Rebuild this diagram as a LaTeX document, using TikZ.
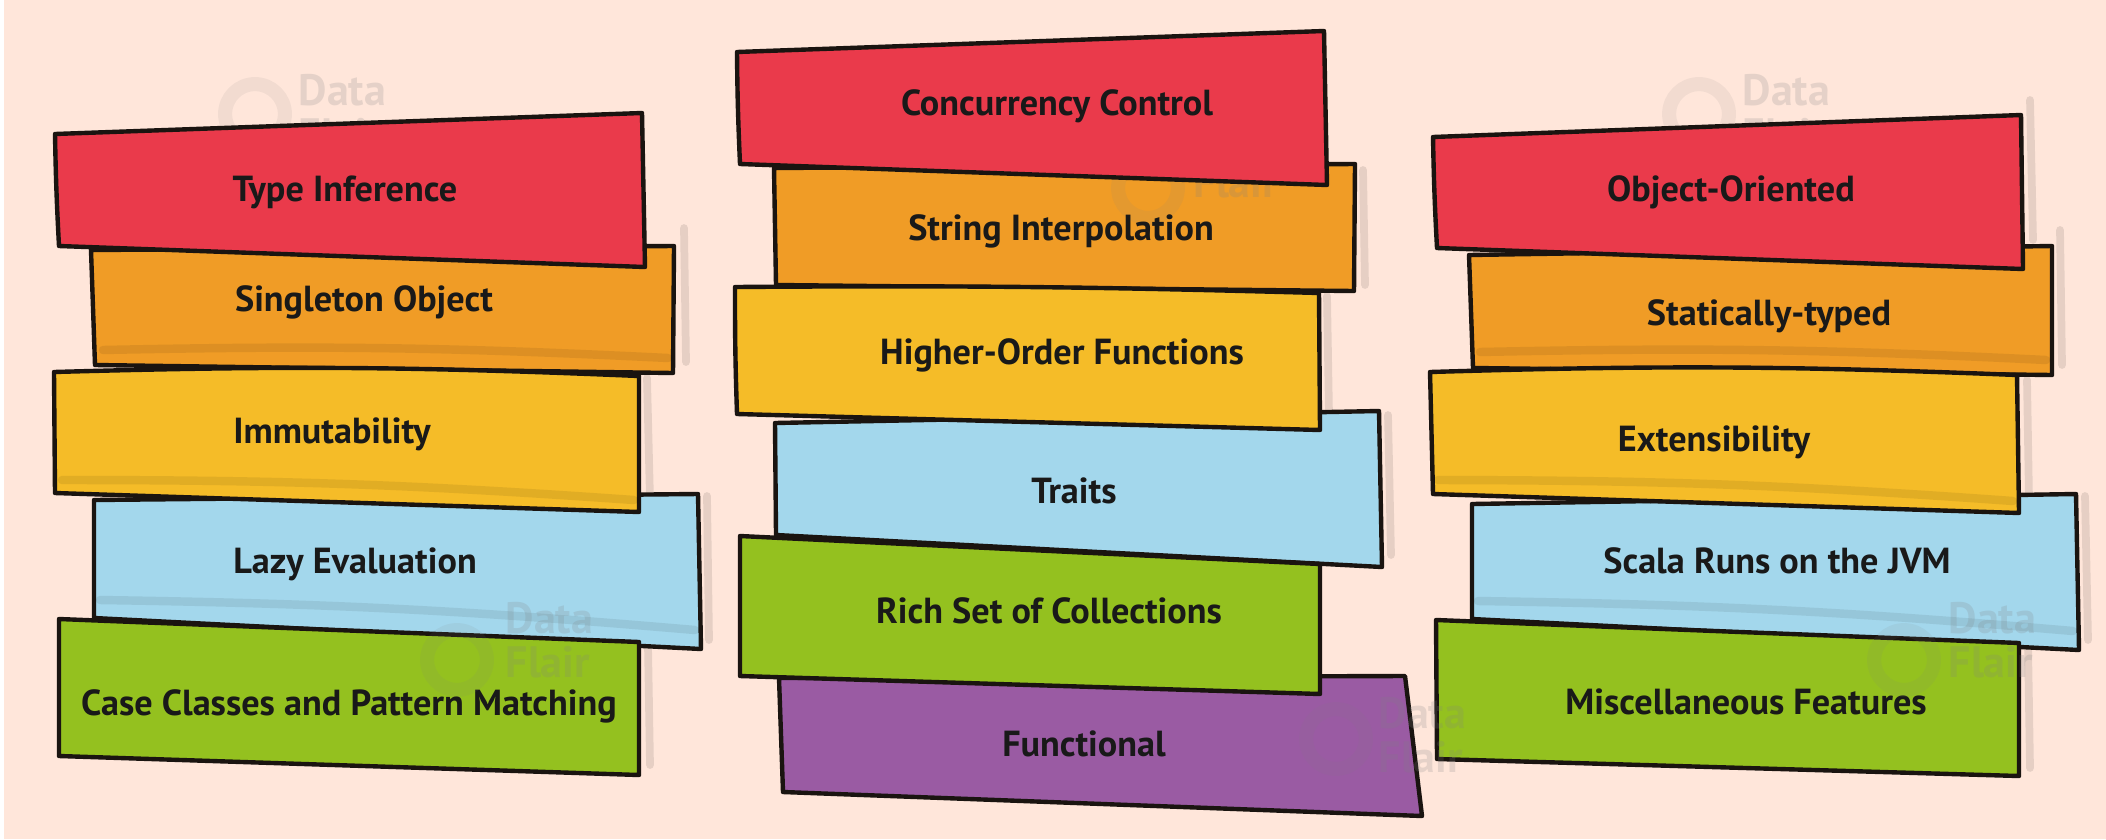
\documentclass[tikz,border=0pt]{standalone}
\usepackage{fontspec}
\setmainfont{PT Sans}
\definecolor{paper}{HTML}{FFE6DA}
\definecolor{redband}{HTML}{EA3A4B}
\definecolor{orangeband}{HTML}{F09C26}
\definecolor{yellowband}{HTML}{F5BC28}
\definecolor{blueband}{HTML}{A3D7EC}
\definecolor{greenband}{HTML}{94C11F}
\definecolor{purpleband}{HTML}{9A5BA3}
\definecolor{inkband}{HTML}{1A1410}
\tikzset{
    band/.style={draw=inkband,line width=1.25pt,line join=round},
    title/.style={font=\bfseries\fontsize{10.3}{12}\selectfont,text=black!90,inner sep=0pt},
    crease/.style={line width=2.4pt,line cap=round,black,opacity=0.08},
    backline/.style={line width=2.2pt,line cap=round,black!60!paper,opacity=0.16},
    wlogo/.style={circle,draw=gray,line width=4pt,minimum size=17pt,inner sep=0pt,opacity=0.10},
    wtext/.style={font=\bfseries\fontsize{12.5}{12.5}\selectfont,text=gray,align=left,inner sep=0pt,text opacity=0.20}
}
\begin{document}
\begin{tikzpicture}[x=0.01cm,y=-0.01cm]
    \useasboundingbox (0,0) rectangle (2106,839);
    \fill[white] (0,0) rectangle (2106,839);
    \fill[paper] (4,0) rectangle (2106,839);

    % watermarks under the top bands
    \node[wlogo] (logoa) at (255,114) {};
    \node[wtext,anchor=west] (marka) at (298,112) {Data\\Flair};
    \node[wlogo] (logoe) at (1699,114) {};
    \node[wtext,anchor=west] (marke) at (1742,112) {Data\\Flair};

    % left stack
    \draw[backline] (684,228) -- (686,362);
    \draw[backline] (647,378) -- (650,500);
    \draw[backline] (707,496) -- (709,640);
    \draw[backline] (648,645) -- (650,765);
    \draw[band,fill=orangeband] (91,250) -- (674,246) -- (673,373) -- (95,365) -- cycle;
    \draw[crease] (103,350) to[bend left=2] (668,358);
    \draw[band,fill=redband] (55,134) -- (642,113) -- (645,267) -- (59,246) to[bend left=1] cycle;
    \draw[band,fill=blueband] (94,500) -- (698,494) -- (701,649) -- (94,618) -- cycle;
    \draw[crease] (100,600) to[bend left=2] (695,630);
    \draw[band,fill=yellowband] (54,372) to[bend left=2] (639,376) -- (639,512) -- (55,493) -- cycle;
    \draw[crease] (62,480) to[bend left=2] (634,500);
    \draw[band,fill=greenband] (59,619) -- (639,642) -- (639,775) -- (59,756) -- cycle;

    \node[title] (typeinf) at (345,192) {Type Inference};
    \node[title] (singleton) at (364,302) {Singleton Object};
    \node[title] (immutable) at (332,434) {Immutability};
    \node[title] (lazyeval) at (355,564) {Lazy Evaluation};
    \node[title] (caseclass) at (349,706) {Case Classes and Pattern Matching};

    % middle stack
    \draw[backline] (1363,170) -- (1365,285);
    \draw[backline] (1327,296) -- (1329,415);
    \draw[backline] (1388,415) -- (1391,555);
    \draw[band,fill=orangeband] (774,168) -- (1355,164) -- (1354,291) -- (776,285) -- cycle;
    \node[wlogo] (logob) at (1148,188) {};
    \node[wtext,anchor=west] (markb) at (1193,160) {Data\\Flair};
    \draw[band,fill=redband] (737,52) -- (1324,31) -- (1327,185) -- (740,164) to[bend left=1] cycle;
    \draw[band,fill=blueband] (775,423) -- (1379,411) -- (1382,567) -- (776,535) -- cycle;
    \draw[band,fill=yellowband] (735,287) to[bend left=1] (1319,293) -- (1320,430) -- (737,414) to[bend left=1] cycle;
    \draw[band,fill=purpleband] (779,678) -- (1405,676) -- (1422,816) -- (783,792) -- cycle;
    \draw[band,fill=greenband] (740,536) -- (1320,564) -- (1320,694) -- (740,676) -- cycle;

    \node[title] (concurrency) at (1057,106) {Concurrency Control};
    \node[title] (interpol) at (1061,231) {String Interpolation};
    \node[title] (higherorder) at (1062,355) {Higher-Order Functions};
    \node[title] (traits) at (1074,491) {Traits};
    \node[title] (collections) at (1049,611) {Rich Set of Collections};
    \node[title] (functional) at (1084,744) {Functional};

    % right stack
    \draw[backline] (2030,100) -- (2033,240);
    \draw[backline] (2060,230) -- (2062,365);
    \draw[backline] (2027,380) -- (2029,500);
    \draw[backline] (2085,496) -- (2088,640);
    \draw[backline] (2028,645) -- (2030,768);
    \draw[band,fill=orangeband] (1469,255) -- (2052,246) -- (2052,375) -- (1473,368) -- cycle;
    \draw[crease] (1480,352) to[bend left=2] (2046,360);
    \draw[band,fill=redband] (1433,137) -- (2021,115) -- (2023,269) -- (1437,248) to[bend left=1] cycle;
    \draw[band,fill=blueband] (1472,504) -- (2076,494) -- (2079,650) -- (1472,619) -- cycle;
    \draw[crease] (1478,601) to[bend left=2] (2073,631);
    \draw[band,fill=yellowband] (1430,372) to[bend left=2] (2017,375) -- (2019,513) -- (1433,494) -- cycle;
    \draw[crease] (1438,480) to[bend left=2] (2013,501);
    \draw[band,fill=greenband] (1436,620) -- (2019,643) -- (2019,776) -- (1437,759) -- cycle;

    \node[title] (objectorient) at (1731,192) {Object-Oriented};
    \node[title] (statictyped) at (1769,316) {Statically-typed};
    \node[title] (extensible) at (1714,442) {Extensibility};
    \node[title] (jvm) at (1777,561) {Scala Runs on the JVM};
    \node[title] (misc) at (1746,702) {Miscellaneous Features};

    % watermarks over the lower bands
    \node[wlogo] (logoc) at (457,660) {};
    \node[wtext,anchor=west] (markc) at (505,640) {Data\\Flair};
    \node[wlogo] (logod) at (1336,739) {};
    \node[wtext,anchor=west] (markd) at (1378,735) {Data\\Flair};
    \node[wlogo] (logof) at (1904,660) {};
    \node[wtext,anchor=west] (markf) at (1948,640) {Data\\Flair};
\end{tikzpicture}
\end{document}
